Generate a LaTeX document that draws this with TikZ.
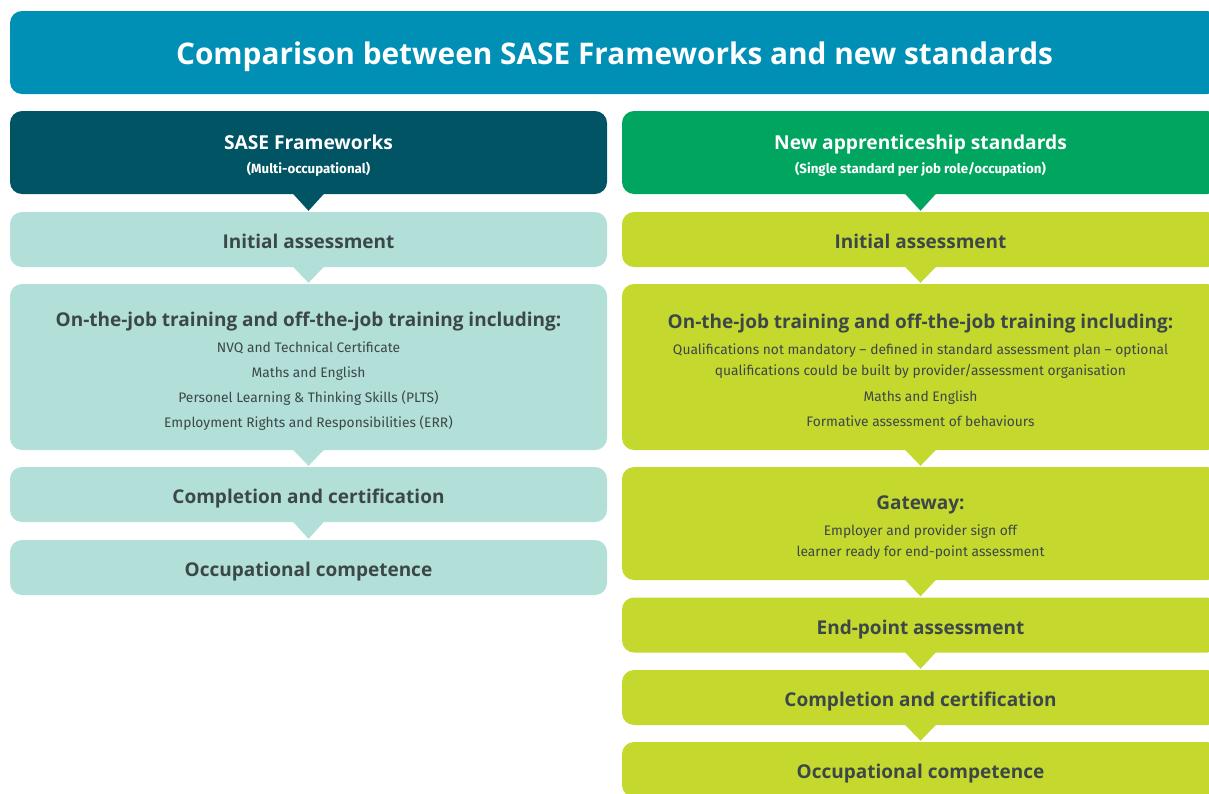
\documentclass[tikz,border=0pt]{standalone}
\usepackage{fontspec}
\setmainfont{Fira Sans}
\newfontfamily\hdfont{Open Sans}
\usetikzlibrary{calc}
\definecolor{titleblue}{HTML}{0090B5}
\definecolor{darkteal}{HTML}{005464}
\definecolor{lightteal}{HTML}{B2DFD8}
\definecolor{hdgreen}{HTML}{00A660}
\definecolor{lime}{HTML}{C5D82D}
\definecolor{txtgray}{HTML}{3C4749}
\newcommand{\hfont}{\hdfont\fontsize{19}{23}\selectfont\bfseries}
\newcommand{\sfontx}{\fontsize{13.8}{25}\selectfont}
\newcommand{\subhfont}{\fontsize{13.3}{25}\selectfont\bfseries}
\newcommand{\strutup}[1]{\rule{0pt}{#1}}
\begin{document}
\begin{tikzpicture}[x=1pt,y=-1pt,
  box/.style={rounded corners=12pt, inner sep=0pt, minimum width=597pt, align=center, text=txtgray, font=\sfontx},
  lbox/.style={box, fill=lightteal},
  rbox/.style={box, fill=lime},
  onebox/.style={minimum height=55pt, text height=18pt, text depth=0pt},
  hbox/.style={box, minimum height=83pt, text=white}]
\useasboundingbox (0,0) rectangle (1209,793);
\clip (0,0) rectangle (1209,793);
\node[box, fill=titleblue, minimum width=1209pt, minimum height=83pt, text=white,
  text height=23pt, text depth=0pt,
  font=\hdfont\fontsize{29.8}{34}\selectfont\bfseries] (title) at (614.5,52.5)
  {Comparison between SASE Frameworks and new standards};
% left column
\node[hbox, fill=darkteal] (lh) at (308.5,152.5)
  {\strutup{21pt}{\hdfont\fontsize{19.2}{23}\selectfont\bfseries SASE Frameworks}\\[-1pt]{\subhfont (Multi-occupational)}};
\node[lbox, onebox] (l1) at (308.5,239.5) {{\hfont Initial assessment}};
\node[lbox, minimum height=166pt] (l2) at (308.5,367)
  {\strutup{22pt}{\hfont On-the-job training and off-the-job training including:}\\[1pt]
   NVQ and Technical Certificate\\
   Maths and English\\
   Personel Learning \& Thinking Skills (PLTS)\\
   Employment Rights and Responsibilities (ERR)};
\node[lbox, onebox] (l3) at (308.5,494.5) {{\hfont Completion and certification}};
\node[lbox, onebox] (l4) at (308.5,567.5) {{\hfont Occupational competence}};
% right column
\node[hbox, fill=hdgreen] (rh) at (920.5,152.5)
  {\strutup{21pt}{\hdfont\fontsize{19.2}{23}\selectfont\bfseries New apprenticeship standards}\\[-1pt]{\subhfont (Single standard per job role/occupation)}};
\node[rbox, onebox] (r1) at (920.5,239.5) {{\hfont Initial assessment}};
\node[rbox, minimum height=166pt] (r2) at (920.5,367)
  {\strutup{22pt}{\hfont On-the-job training and off-the-job training including:}\\[1pt]
   Qualifications not mandatory – defined in standard assessment plan – optional\\[-4pt]
   qualifications could be built by provider/assessment organisation\\[1pt]
   Maths and English\\
   Formative assessment of behaviours};
\node[rbox, minimum height=113pt] (r3) at (920.5,523.5)
  {\strutup{22pt}{\hfont Gateway:}\\[1pt]
   Employer and provider sign off\\[-4pt]
   learner ready for end-point assessment};
\node[rbox, onebox] (r4) at (920.5,625) {{\hfont End-point assessment}};
\node[rbox, onebox] (r5) at (920.5,697.5) {{\hfont Completion and certification}};
\node[rbox, onebox] (r6) at (920.5,769.5) {{\hfont Occupational competence}};
% pointers
\foreach \a/\b/\c in {lh/l1/darkteal, l1/l2/lightteal, l2/l3/lightteal, l3/l4/lightteal,
  rh/r1/hdgreen, r1/r2/lime, r2/r3/lime, r3/r4/lime, r4/r5/lime, r5/r6/lime}
  \fill[\c] ([xshift=-16pt,yshift=1pt]\a.south) -- ([xshift=16pt,yshift=1pt]\a.south)
     -- ([yshift=1pt]\b.north) -- cycle;
\end{tikzpicture}
\end{document}
